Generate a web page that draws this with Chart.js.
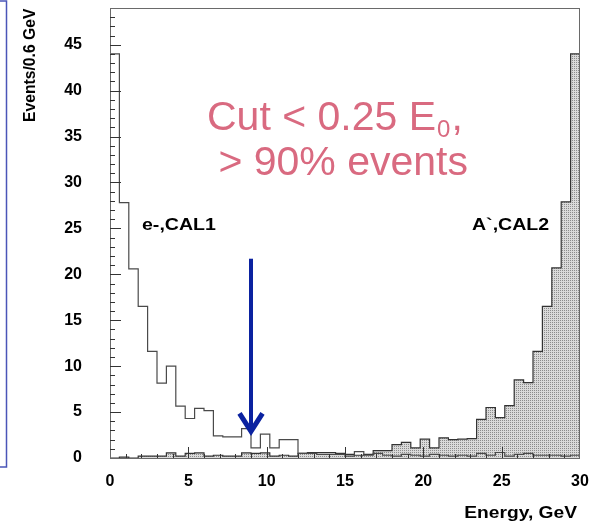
<!DOCTYPE html>
<html>
<head>
<meta charset="utf-8">
<script src="https://cdn.jsdelivr.net/npm/chart.js@4/dist/chart.umd.min.js"></script>
<style>
html, body { margin: 0; padding: 0; background: #fff; }
</style>
</head>
<body>
<canvas id="grafico" width="592" height="522"></canvas>
<script>
// Datos: histogramas de 50 bins de 0.6 GeV entre 0 y 30 GeV
const anchoBin = 0.6;
const eCal1 = [44, 27.8, 20.6, 16.5, 11.6, 8.15, 10.0, 5.65, 4.3, 5.4,
               5.15, 2.4, 2.3, 2.3, 3.2, 1.1, 2.6, 1.1, 2.0, 2.0,
               0.5, 0.5, 0.4, 0.4, 0.4, 0.2, 0.7, 0.3, 0.5, 0.3,
               0.2, 0.4, 0.3, 0.2, 0.4, 0.3, 0.2, 0.3, 0.2, 0.5,
               0.3, 0.6, 0.2, 0.4, 0.5, 0.3, 0.3, 0.3, 0.2, 0.3];
const aCal2 = [0, 0.1, 0, 0.2, 0.2, 0.2, 0.55, 0.2, 0.5, 0.55,
               0.2, 0.3, 0.2, 0.2, 0.55, 0.5, 0.55, 0.2, 0.3, 0.2,
               0.5, 0.6, 0.6, 0.6, 0.5, 0.4, 0.3, 0.4, 0.8, 0.8,
               1.45, 1.7, 1.1, 2.05, 1.1, 2.2, 2.0, 2.05, 2.1, 4.2,
               5.5, 4.4, 5.7, 8.5, 8.2, 11.6, 16.5, 20.7, 27.9, 44];
const ticksX = [0, 5, 10, 15, 20, 25, 30];
const ticksY = [0, 5, 10, 15, 20, 25, 30, 35, 40, 45];
const corteX = 9; // 0.25 * E0

function puntosHisto(valores) {
    let pts = valores.map((v, i) => ({ x: i * anchoBin, y: v }));
    pts.push({ x: valores.length * anchoBin, y: valores[valores.length - 1] });
    return pts;
}

// trama punteada del histograma relleno
function crearTrama() {
    let c = document.createElement('canvas'); c.width = 2; c.height = 2;
    let g = c.getContext('2d');
    g.fillStyle = '#dadada'; g.fillRect(0, 0, 2, 2);
    g.fillStyle = '#8c8c8c'; g.fillRect(0, 0, 1, 1);
    return g.createPattern(c, 'repeat');
}

function textoEstirado(ctx, txt, x, y, escala, alin) {
    ctx.save();
    let w = ctx.measureText(txt).width * escala;
    let x0 = alin === 'right' ? x - w : x;
    ctx.translate(x0, y); ctx.scale(escala, 1);
    ctx.textAlign = 'left';
    ctx.fillText(txt, 0, 0);
    ctx.restore();
}

function sinRelleno(s) { s.paddingTop = 0; s.paddingBottom = 0; s.paddingLeft = 0; s.paddingRight = 0; }

const decoracion = {
    id: 'decoracion',
    afterDatasetsDraw(chart) {
        const { ctx, chartArea: a, scales: { x, y } } = chart;
        ctx.save();
        // marco
        ctx.strokeStyle = '#6a6a6a'; ctx.lineWidth = 1;
        ctx.strokeRect(Math.round(a.left) + 0.5, Math.round(a.top) + 0.5, Math.round(a.right - a.left) - 1, Math.round(a.bottom - a.top));
        // ticks hacia dentro
        ctx.strokeStyle = '#333';
        ctx.beginPath();
        for (let v = 1; v <= 48; v++) {
            let py = Math.round(y.getPixelForValue(v)) + 0.5;
            ctx.moveTo(a.left, py); ctx.lineTo(a.left + (v % 5 === 0 ? 11 : 5), py);
        }
        for (let e = 1; e < 30; e++) {
            let px = Math.round(x.getPixelForValue(e)) + 0.5;
            ctx.moveTo(px, a.bottom); ctx.lineTo(px, a.bottom - (e % 5 === 0 ? 11 : 4));
        }
        ctx.stroke();

        // flecha azul del corte
        let fx = x.getPixelForValue(corteX);
        let fy1 = y.getPixelForValue(21.7), fy2 = y.getPixelForValue(2.8);
        ctx.strokeStyle = '#0b22a0'; ctx.lineWidth = 4;
        ctx.beginPath(); ctx.moveTo(fx, fy1); ctx.lineTo(fx, fy2 - 4); ctx.stroke();
        ctx.lineWidth = 5; ctx.lineJoin = 'miter';
        ctx.beginPath(); ctx.moveTo(fx - 11.5, fy2 - 19); ctx.lineTo(fx, fy2 - 1); ctx.lineTo(fx + 11.5, fy2 - 19); ctx.stroke();

        // etiquetas
        ctx.fillStyle = '#000';
        ctx.font = 'bold 17px "Liberation Sans", Arial, sans-serif';
        ctx.textBaseline = 'alphabetic';
        textoEstirado(ctx, 'e-,CAL1', 142, 230, 1.15, 'left');
        textoEstirado(ctx, 'A`,CAL2', 472, 230, 1.15, 'left');
        textoEstirado(ctx, 'Energy, GeV', 577, 518, 1.13, 'right');

        // titulo eje Y
        ctx.save();
        ctx.translate(35, 122); ctx.rotate(-Math.PI / 2);
        ctx.font = 'bold 15.7px "Liberation Sans", Arial, sans-serif';
        ctx.textAlign = 'left';
        ctx.fillText('Events/0.6 GeV', 0, 0);
        ctx.restore();

        // texto rosa
        ctx.fillStyle = '#d96a80';
        ctx.font = '41px "Liberation Sans", Arial, sans-serif';
        ctx.textAlign = 'left';
        let l1 = 'Cut < 0.25 E';
        ctx.fillText(l1, 207, 130);
        let w1 = ctx.measureText(l1).width;
        ctx.font = '24px "Liberation Sans", Arial, sans-serif';
        ctx.fillText('0', 207 + w1 + 1, 137);
        let w0 = ctx.measureText('0').width;
        ctx.font = '41px "Liberation Sans", Arial, sans-serif';
        ctx.fillText(',', 207 + w1 + w0 + 2, 130);
        ctx.fillText(' > 90% events', 207, 175);

        // recuadro azul de la diapositiva
        ctx.strokeStyle = '#4a55b8'; ctx.lineWidth = 1.5;
        ctx.beginPath(); ctx.moveTo(0, 1); ctx.lineTo(6.5, 1); ctx.lineTo(6.5, 467); ctx.lineTo(0, 467); ctx.stroke();
        ctx.restore();
    }
};

new Chart(document.getElementById('grafico').getContext('2d'), {
    type: 'line',
    data: {
        datasets: [
            { label: 'e-,CAL1', data: puntosHisto(eCal1), stepped: 'before', borderColor: '#4a4a4a', borderWidth: 1.2, pointRadius: 0, fill: false },
            { label: 'A`,CAL2', data: puntosHisto(aCal2), stepped: 'before', borderColor: '#333', borderWidth: 1.2, pointRadius: 0, fill: 'origin', backgroundColor: crearTrama() }
        ]
    },
    options: {
        responsive: false, animation: false, devicePixelRatio: 1,
        layout: { padding: { top: 8, right: 12, left: 0, bottom: 0 } },
        plugins: { legend: { display: false }, tooltip: { enabled: false } },
        scales: {
            x: {
                type: 'linear', min: 0, max: 30,
                afterFit: s => { s.height = 64; sinRelleno(s); },
                afterBuildTicks: s => { s.ticks = ticksX.map(v => ({ value: v })); },
                grid: { display: false, drawTicks: false }, border: { display: false },
                ticks: { padding: 14, color: '#000', maxRotation: 0, font: { family: '"Liberation Sans", Arial, sans-serif', size: 16, weight: 'bold' } }
            },
            y: {
                type: 'linear', min: 0, max: 49,
                afterFit: s => { s.width = 110; sinRelleno(s); },
                afterBuildTicks: s => { s.ticks = ticksY.map(v => ({ value: v })); },
                grid: { display: false, drawTicks: false }, border: { display: false },
                ticks: { padding: 28, color: '#000', font: { family: '"Liberation Sans", Arial, sans-serif', size: 16, weight: 'bold' } }
            }
        }
    },
    plugins: [decoracion]
});
</script>
</body>
</html>
